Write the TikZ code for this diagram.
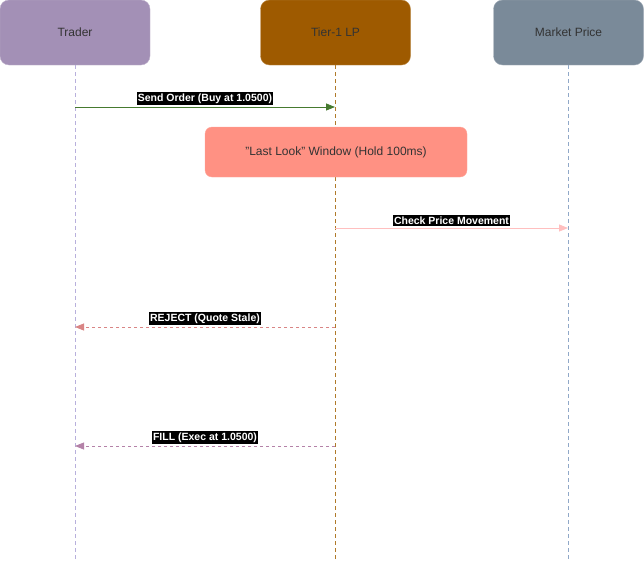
\documentclass[tikz,border=0pt]{standalone}
\usepackage{fontspec}
\setmainfont{Liberation Sans}
\usetikzlibrary{arrows.meta}
\definecolor{trader}{HTML}{A390B6}
\definecolor{lp}{HTML}{9E5A00}
\definecolor{mkt}{HTML}{7A8A99}
\definecolor{ll}{HTML}{FF9183}
\definecolor{sendc}{HTML}{467A2F}
\definecolor{checkc}{HTML}{FFBFBF}
\definecolor{rejc}{HTML}{D98585}
\definecolor{fillc}{HTML}{B482A8}
\definecolor{lltrader}{HTML}{B8B0DC}
\definecolor{lllp}{HTML}{B07A2A}
\definecolor{llmkt}{HTML}{90A8C8}
\tikzset{
  actor/.style={rounded corners=9pt, minimum width=150pt, minimum height=65pt, text=black!80, font=\fontsize{12}{14}\selectfont, draw=#1!70!white, fill=#1},
  lifeline/.style={dashed, dash pattern=on 4pt off 3pt, line width=0.6pt},
  msglabel/.style={fill=black, text=white, font=\bfseries\fontsize{10.5}{11.5}\selectfont, inner sep=1.2pt},
  msg/.style={line width=0.8pt, -{Triangle[length=9pt,width=7pt]}},
}
\begin{document}
\begin{tikzpicture}[x=1pt,y=-1pt]
\useasboundingbox (0,0) rectangle (644,562);
% actors
\node[actor=trader] (trader) at (75,32.5) {Trader};
\node[actor=lp] (lp) at (335.5,32.5) {Tier-1 LP};
\node[actor=mkt] (mkt) at (568.5,32.5) {Market Price};
% lifeline ends
\coordinate (tEnd) at (75,562);
\coordinate (lEnd) at (335,562);
\coordinate (mEnd) at (568,562);
\draw[lifeline, lltrader] (trader.south) -- (tEnd);
\draw[lifeline, lllp] (lp.south -| lEnd) -- (lEnd);
\draw[lifeline, llmkt] (mkt.south -| mEnd) -- (mEnd);
% last look window
\node[rounded corners=7pt, fill=ll, draw=ll!80!white, minimum width=262pt, minimum height=50pt, text=black!80, font=\fontsize{12}{14}\selectfont] (window) at (336,152) {"Last Look" Window (Hold 100ms)};
% messages
\coordinate (s1) at (75,107);
\coordinate (s2) at (335,107);
\draw[msg, sendc] (s1) -- (s2) node[midway, above=2pt, msglabel] {Send Order (Buy at 1.0500)};
\coordinate (c1) at (335,228);
\coordinate (c2) at (568,228);
\draw[msg, checkc] (c1) -- (c2) node[midway, above=2pt, msglabel] {Check Price Movement};
\coordinate (r1) at (335,327);
\coordinate (r2) at (75,327);
\draw[msg, rejc, dashed, dash pattern=on 3pt off 3pt] (r1) -- (r2) node[midway, above=2pt, msglabel] {REJECT (Quote Stale)};
\coordinate (f1) at (335,446);
\coordinate (f2) at (75,446);
\draw[msg, fillc, dashed, dash pattern=on 3pt off 3pt] (f1) -- (f2) node[midway, above=2pt, msglabel] {FILL (Exec at 1.0500)};
\end{tikzpicture}
\end{document}
